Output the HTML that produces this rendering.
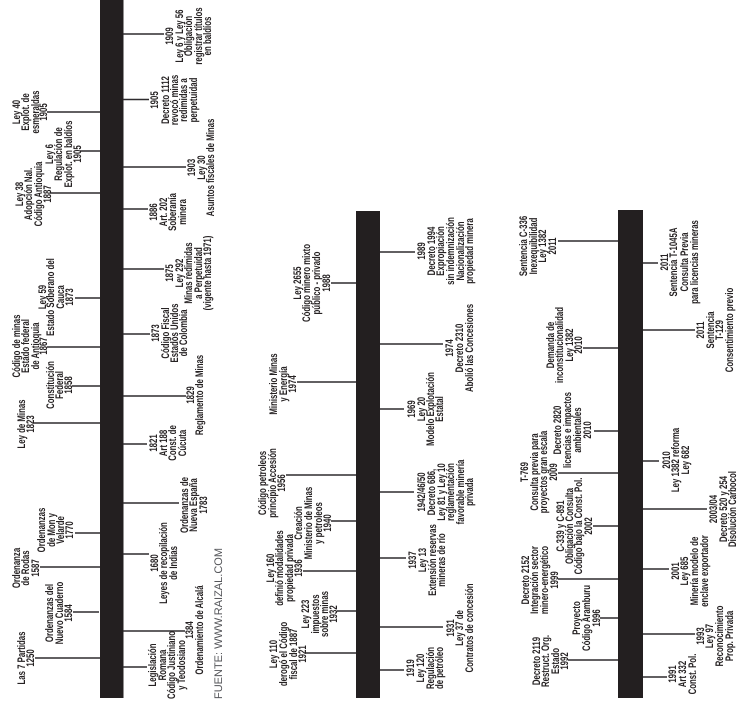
<!DOCTYPE html>
<html><head><meta charset="utf-8"><style>
html,body{margin:0;padding:0;background:#fff;width:756px;height:706px;overflow:hidden}
svg{display:block}
text{font-family:"Liberation Sans",sans-serif;font-size:11px;font-weight:bold;fill:#262223;text-anchor:middle;text-rendering:geometricPrecision}
</style></head><body>
<svg width="756" height="706" viewBox="0 0 756 706" xmlns="http://www.w3.org/2000/svg">
<rect x="100" y="-2" width="23.500" height="700" fill="#231f20"/>
<rect x="356" y="211" width="24" height="487" fill="#231f20"/>
<rect x="618" y="210" width="25" height="488" fill="#231f20"/>
<path stroke="#2e2b2e" stroke-width="1.500" fill="none" d="M123 34H164M123 99.500H149M123 167H186M123 209H148M47 112H100M80 151H100M50 193H100M123 269H164M123 334H150M123 396H186M123 444H147M75 298H100M47 347H100M72 386H100M34 423H100M123 503H179M123 554H149M123 631H185M123 667H147M75 533H100M40 567H100M73 612H99M35 658H100M380 252H415M380 344H443M380 409H404M331 283H356M297 382H356M380 492H414M380 558H406M380 627H443M380 670H404M286 475H356M331 521H356M303 571H356M337 611H356M305 653H356M643 263H658M643 330H695M558 241H618M583 348H618M594 431H618M643 461H659M643 509H707M643 569H669M643 634H695M643 677H667M558 473H618M593 526H618M558 579H618M600 618H618M568 660H618"/>
<g transform="translate(.4,0)">
<g transform="translate(0,36) rotate(-90) scale(.71,1)"><text y="172.500">1909</text><text y="182.500">Ley 6 y Ley 56</text><text y="191.500">Obligación</text><text y="201.500">registrar títulos</text><text y="210.500">en baldíos</text></g>
<g transform="translate(0,100) rotate(-90) scale(.71,1)"><text y="157.500">1905</text><text y="168.500">Decreto 1112</text><text y="177.500">revocó minas</text><text y="186.500">redimidas a</text><text y="196.500">perpetuidad</text></g>
<g transform="translate(0,167.500) rotate(-90) scale(.71,1)"><text y="194.500">1903</text><text y="204.500">Ley 30</text><text y="213.500">Asuntos fiscales de Minas</text></g>
<g transform="translate(0,212) rotate(-90) scale(.71,1)"><text y="156.500">1886</text><text y="166.500">Art. 202</text><text y="175.500">Soberanía</text><text y="185.500">minera</text></g>
<g transform="translate(0,112) rotate(-90) scale(.71,1)"><text y="19.500">Ley 40</text><text y="28.500">Explot. de</text><text y="38.500">esmeraldas</text><text y="46.500">1905</text></g>
<g transform="translate(0,154) rotate(-90) scale(.71,1)"><text y="52.500">Ley 6</text><text y="61.500">Regulación de</text><text y="71.500">Explot. en baldíos</text><text y="80.500">1905</text></g>
<g transform="translate(0,194) rotate(-90) scale(.71,1)"><text y="22.500">Ley 38</text><text y="31.500">Adopción Nal.</text><text y="41.500">Código Antioquia</text><text y="50.500">1887</text></g>

<g transform="translate(0,273) rotate(-90) scale(.71,1)"><text y="172.500">1875</text><text y="182.500">Ley 292</text><text y="191.500">Minas redimidas</text><text y="201.500">a Perpetuidad</text><text y="210.500">(vigente hasta 1971)</text></g>
<g transform="translate(0,333) rotate(-90) scale(.71,1)"><text y="158.500">1873</text><text y="168.500">Código Fiscal</text><text y="177.500">Estados Unidos</text><text y="186.500">de Colombia</text></g>
<g transform="translate(0,395) rotate(-90) scale(.71,1)"><text y="193.500">1829</text><text y="202.500">Reglamento de Minas</text></g>
<g transform="translate(0,443) rotate(-90) scale(.71,1)"><text y="156.500">1821</text><text y="166.500">Art 188</text><text y="175.500">Const. de</text><text y="185.500">Cúcuta</text></g>
<g transform="translate(0,297) rotate(-90) scale(.71,1)"><text y="45.500">Ley 59</text><text y="53.500">Estado Soberano del</text><text y="63.500">Cauca</text><text y="72.500">1873</text></g>
<g transform="translate(0,346) rotate(-90) scale(.71,1)"><text y="19.500">Código de minas</text><text y="28.500">Estado federal</text><text y="38.500">de Antioquia</text><text y="46.500">1867</text></g>
<g transform="translate(0,385) rotate(-90) scale(.71,1)"><text y="53.500">Constitución</text><text y="62.500">Federal</text><text y="71.500">1858</text></g>
<g transform="translate(0,424) rotate(-90) scale(.71,1)"><text y="24.500">Ley de Minas</text><text y="33.500">1823</text></g>

<g transform="translate(0,505) rotate(-90) scale(.71,1)"><text y="187.500">Ordenanzas de</text><text y="196.500">Nueva España</text><text y="206.500">1783</text></g>
<g transform="translate(0,563) rotate(-90) scale(.71,1)"><text y="157.500">1680</text><text y="166.500">Leyes de recopilación</text><text y="176.500">de Indias</text></g>
<g transform="translate(0,630) rotate(-90) scale(.71,1)"><text y="192.500">1384</text><text y="202.500">Ordenamiento de Alcalá</text></g>
<g transform="translate(0,665) rotate(-90) scale(.71,1)"><text y="155.500">Legislación</text><text y="165.500">Romana</text><text y="174.500">Código Justiniano</text><text y="184.500">y Teodosiano</text></g>
<g transform="translate(0,530) rotate(-90) scale(.71,1)"><text y="44.500">Ordenanzas</text><text y="54.500">de Mon y</text><text y="63.500">Velarde</text><text y="72.500">1770</text></g>
<g transform="translate(0,568) rotate(-90) scale(.71,1)"><text y="19.500">Ordenanza</text><text y="28.500">de Rodas</text><text y="38.500">1587</text></g>
<g transform="translate(0,613) rotate(-90) scale(.71,1)"><text y="52.500">Ordenanzas del</text><text y="62.500">Nuevo Cuaderno</text><text y="71.500">1584</text></g>
<g transform="translate(0,658) rotate(-90) scale(.71,1)"><text y="24.500">Las 7 Partidas</text><text y="33.500">1250</text></g>

<g transform="translate(0,251) rotate(-90) scale(.71,1)"><text y="424.500">1989</text><text y="434.500">Decreto 1994</text><text y="443.500">Expropiación</text><text y="453.500">sin indemnización</text><text y="463.500">Nacionalización</text><text y="472.500">propiedad minera</text></g>
<g transform="translate(0,348) rotate(-90) scale(.71,1)"><text y="452.500">1974</text><text y="462.500">Decreto 2310</text><text y="472.500">Abolió las Concesiones</text></g>
<g transform="translate(0,409) rotate(-90) scale(.71,1)"><text y="414.500">1969</text><text y="424.500">Ley 20</text><text y="433.500">Modelo Explotación</text><text y="442.500">Estatal</text></g>
<g transform="translate(0,283) rotate(-90) scale(.71,1)"><text y="300.500">Ley 2655</text><text y="309.500">Código minero mixto</text><text y="319.500">público - privado</text><text y="329.500">1988</text></g>
<g transform="translate(0,384) rotate(-90) scale(.71,1)"><text y="276.500">Ministerio Minas</text><text y="286.500">y Energía</text><text y="295.500">1974</text></g>
<g transform="translate(0,492) rotate(-90) scale(.71,1)"><text y="424.500">1942/46/50</text><text y="434.500">Decreto 686,</text><text y="444.500">Ley 81 y Ley 10</text><text y="453.500">reglamentación</text><text y="463.500">favorable minería</text><text y="472.500">privada</text></g>
<g transform="translate(0,560) rotate(-90) scale(.71,1)"><text y="415.500">1937</text><text y="425.500">Ley 13</text><text y="435.500">Extensión reservas</text><text y="444.500">mineras de río</text></g>
<g transform="translate(0,628) rotate(-90) scale(.71,1)"><text y="453.500">1931</text><text y="462.500">Ley 37 de</text><text y="472.500">Contratos de concesión</text></g>
<g transform="translate(0,668) rotate(-90) scale(.71,1)"><text y="413.500">1919</text><text y="423.500">Ley 120</text><text y="433.500">Regulación</text><text y="442.500">de petróleo</text></g>
<g transform="translate(0,483) rotate(-90) scale(.71,1)"><text y="265.500">Código petroleos</text><text y="275.500">principio Accesión</text><text y="284.500">1956</text></g>
<g transform="translate(0,523) rotate(-90) scale(.71,1)"><text y="301.500">Creación</text><text y="311.500">Ministerio de Minas</text><text y="321.500">y petroleos</text><text y="330.500">1940</text></g>
<g transform="translate(0,568) rotate(-90) scale(.71,1)"><text y="273.500">Ley 160</text><text y="282.500">definió modalidades</text><text y="292.500">propiedad privada</text><text y="301.500">1936</text></g>
<g transform="translate(0,614) rotate(-90) scale(.71,1)"><text y="308.500">Ley 223</text><text y="318.500">impuestos</text><text y="327.500">sobre minas</text><text y="336.500">1932</text></g>
<g transform="translate(0,654) rotate(-90) scale(.71,1)"><text y="276.500">Ley 110</text><text y="286.500">derogó el Código</text><text y="296.500">fiscal de 1887</text><text y="305.500">1921</text></g>

<g transform="translate(0,262) rotate(-90) scale(.71,1)"><text y="667.500">2011</text><text y="676.500">Sentencia T-1045A</text><text y="687.500">Consulta Previa</text><text y="697.500">para licencias mineras</text></g>
<g transform="translate(0,330) rotate(-90) scale(.71,1)"><text y="703.500">2011</text><text y="713.500">Sentencia</text><text y="722.500">T-129</text><text y="732.500">Consentimiento previo</text></g>
<g transform="translate(0,246) rotate(-90) scale(.71,1)"><text y="526.500">Sentencia C-336</text><text y="536.500">Inexequibilidad</text><text y="545.500">Ley 1382</text><text y="555.500">2011</text></g>
<g transform="translate(0,345) rotate(-90) scale(.71,1)"><text y="553.500">Demanda de</text><text y="562.500">inconstitucionalidad</text><text y="572.500">Ley 1382</text><text y="581.500">2010</text></g>
<g transform="translate(0,430) rotate(-90) scale(.71,1)"><text y="560.500">Decreto 2820</text><text y="570.500">licencias e impactos</text><text y="580.500">ambientales</text><text y="590.500">2010</text></g>
<g transform="translate(0,460) rotate(-90) scale(.71,1)"><text y="669.500">2010</text><text y="678.500">Ley 1382 reforma</text><text y="688.500">Ley 682</text></g>
<g transform="translate(0,509) rotate(-90) scale(.71,1)"><text y="716.500">2003/04</text><text y="726.500">Decreto 520 y 254</text><text y="735.500">Disolución Carbocol</text></g>
<g transform="translate(0,571) rotate(-90) scale(.71,1)"><text y="678.500">2001</text><text y="687.500">Ley 685</text><text y="697.500">Minería modelo de</text><text y="707.500">enclave exportador</text></g>
<g transform="translate(0,636) rotate(-90) scale(.71,1)"><text y="703.500">1993</text><text y="712.500">Ley 97</text><text y="722.500">Reconocimiento</text><text y="732.500">Prop. Privada</text></g>
<g transform="translate(0,674) rotate(-90) scale(.71,1)"><text y="675.500">1991</text><text y="685.500">Art 332</text><text y="695.500">Const. Pol.</text></g>
<g transform="translate(0,472) rotate(-90) scale(.71,1)"><text y="527.500">T-769</text><text y="537.500">Consulta previa para</text><text y="546.500">proyectos gran escala</text><text y="556.500">2009</text></g>
<g transform="translate(0,526) rotate(-90) scale(.71,1)"><text y="563.500">C-339 y C-891</text><text y="572.500">Obligación Consulta</text><text y="581.500">Código bajo la Const. Pol.</text><text y="591.500">2002</text></g>
<g transform="translate(0,580) rotate(-90) scale(.71,1)"><text y="528.500">Decreto 2152</text><text y="537.500">Integración sector</text><text y="547.500">minero-energético</text><text y="557.500">1999</text></g>
<g transform="translate(0,618) rotate(-90) scale(.71,1)"><text y="579.500">Proyecto</text><text y="589.500">Código Aramburu</text><text y="599.500">1996</text></g>
<g transform="translate(0,661) rotate(-90) scale(.71,1)"><text y="539.500">Decreto 2119</text><text y="548.500">Restruct. Org.</text><text y="558.500">Estado</text><text y="567.500">1992</text></g>
</g>
<text transform="translate(222,623.500) rotate(-90)" textLength="151" lengthAdjust="spacingAndGlyphs" style="font-size:11px;font-weight:normal;fill:#55565a">FUENTE: WWW.RAIZAL.COM</text>
</svg>
</body></html>
